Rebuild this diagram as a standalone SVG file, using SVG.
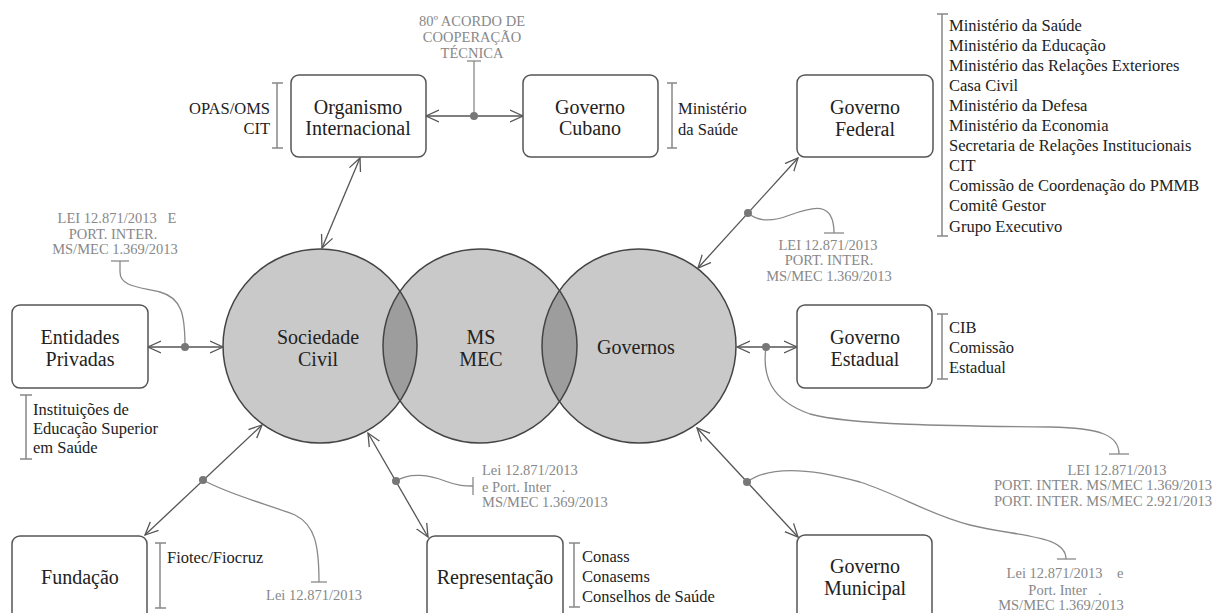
<svg xmlns="http://www.w3.org/2000/svg" width="1213" height="613" viewBox="0 0 1213 613" font-family="'Liberation Serif', 'Times New Roman', 'DejaVu Serif', serif">
<style>
text{font-family:"Liberation Serif","Times New Roman","DejaVu Serif",serif}
.box{fill:#fff;stroke:#555;stroke-width:1.5}
.bt{font-size:20px;fill:#222;text-anchor:middle}
.st{font-size:16.5px;fill:#222}
.law{font-size:14.5px;fill:#888;white-space:pre}
.br{stroke:#888;stroke-width:1.5;fill:none}
.cn{stroke:#555;stroke-width:1.3;fill:none}
.cv{stroke:#888;stroke-width:1.3;fill:none}
.dot{fill:#777}
.circ{fill:#c9c9c9}
.lens{fill:#9d9d9d}
.co{fill:none;stroke:#444;stroke-width:1.5}
</style>
<defs>
<marker id="ar" viewBox="0 0 14 14" refX="13" refY="7" markerWidth="14" markerHeight="14" markerUnits="userSpaceOnUse" orient="auto-start-reverse">
<path d="M0,1 L13,7 L0,13" fill="none" stroke="#555" stroke-width="1.3"/>
</marker>
</defs>
<rect width="1213" height="613" fill="#fff"/>

<g id="venn">
<circle class="circ" cx="320" cy="346" r="97"/>
<circle class="circ" cx="480" cy="346" r="97"/>
<circle class="circ" cx="639" cy="346" r="97"/>
<path class="lens" d="M400,291.15 A97,97 0 0,1 400,400.85 A97,97 0 0,1 400,291.15Z"/>
<path class="lens" d="M559.5,290.4 A97,97 0 0,1 559.5,401.6 A97,97 0 0,1 559.5,290.4Z"/>
<circle class="co" cx="320" cy="346" r="97"/>
<circle class="co" cx="480" cy="346" r="97"/>
<circle class="co" cx="639" cy="346" r="97"/>
</g>
<g id="sociedade-civil"><text class="bt" x="318" y="344">Sociedade</text><text class="bt" x="318" y="366">Civil</text></g>
<g id="ms-mec"><text class="bt" x="481" y="344">MS</text><text class="bt" x="481" y="366">MEC</text></g>
<g id="governos"><text class="bt" x="636" y="354">Governos</text></g>

<g id="connectors">
<line class="cn" x1="426" y1="116" x2="523" y2="116" marker-start="url(#ar)" marker-end="url(#ar)"/>
<line class="cv" x1="474" y1="61" x2="474" y2="116"/>
<line class="cv" x1="467" y1="61" x2="481" y2="61"/>
<circle class="dot" cx="474" cy="116" r="4"/>

<line class="cn" x1="360" y1="158" x2="322" y2="248" marker-start="url(#ar)" marker-end="url(#ar)"/>

<line class="cn" x1="798" y1="158" x2="698" y2="268" marker-start="url(#ar)" marker-end="url(#ar)"/>
<path class="cv" d="M748,213 C758,222 772,222 790,215 C812,207 834,200 834,233"/>
<line class="cv" x1="824" y1="233" x2="844" y2="233"/>
<circle class="dot" cx="748" cy="213" r="4"/>

<line class="cn" x1="148" y1="347" x2="223" y2="347" marker-start="url(#ar)" marker-end="url(#ar)"/>
<path class="cv" d="M120,261 V272 C120,287 140,287 160,292 C182,298 185,315 185,347"/>
<line class="cv" x1="111" y1="261" x2="129" y2="261"/>
<circle class="dot" cx="185" cy="347" r="4"/>

<line class="cn" x1="737" y1="347" x2="797" y2="347" marker-start="url(#ar)" marker-end="url(#ar)"/>
<path class="cv" d="M766,347 C762,375 770,400 810,414 C850,425 950,426 1050,427 C1100,428 1119,435 1119,454"/>
<line class="cv" x1="1109" y1="454" x2="1129" y2="454"/>
<circle class="dot" cx="766" cy="347" r="4"/>

<line class="cn" x1="262" y1="425" x2="145" y2="535" marker-start="url(#ar)" marker-end="url(#ar)"/>
<path class="cv" d="M203,480 C230,495 270,505 295,515 C315,525 319,545 319,582"/>
<line class="cv" x1="311" y1="582" x2="327" y2="582"/>
<circle class="dot" cx="203" cy="480" r="4"/>

<line class="cn" x1="368" y1="433" x2="428" y2="537" marker-start="url(#ar)" marker-end="url(#ar)"/>
<path class="cv" d="M396,481 C410,472 430,475 445,481 C458,486 465,486 473,486"/>
<line class="cv" x1="473" y1="477" x2="473" y2="495"/>
<circle class="dot" cx="396" cy="481" r="4"/>

<line class="cn" x1="697" y1="428" x2="798" y2="537" marker-start="url(#ar)" marker-end="url(#ar)"/>
<path class="cv" d="M747,482 C770,465 810,468 860,482 C900,495 930,515 970,525 C1020,537 1066,535 1066,559"/>
<line class="cv" x1="1057" y1="559" x2="1076" y2="559"/>
<circle class="dot" cx="747" cy="482" r="4"/>
</g>

<g id="organismo-internacional">
<rect class="box" x="291" y="75" width="135" height="82" rx="8"/>
<text class="bt" x="358" y="114">Organismo</text><text class="bt" x="358" y="135">Internacional</text>
<path class="br" d="M272,83 H283 M277,83 V148 M272,148 H283"/>
<text class="st" x="270" y="114" text-anchor="end">OPAS/OMS</text>
<text class="st" x="270" y="134" text-anchor="end">CIT</text>
</g>

<g id="acordo">
<text class="law" x="472" y="26" text-anchor="middle">80º ACORDO DE</text>
<text class="law" x="472" y="42" text-anchor="middle">COOPERAÇÃO</text>
<text class="law" x="472" y="58" text-anchor="middle">TÉCNICA</text>
</g>

<g id="governo-cubano">
<rect class="box" x="523" y="75" width="135" height="82" rx="8"/>
<text class="bt" x="590" y="114">Governo</text><text class="bt" x="590" y="135">Cubano</text>
<path class="br" d="M667,83 H677 M672,83 V148 M667,148 H677"/>
<text class="st" x="678" y="114">Ministério</text>
<text class="st" x="678" y="135">da Saúde</text>
</g>

<g id="governo-federal">
<rect class="box" x="797" y="75" width="136" height="82" rx="8"/>
<text class="bt" x="865" y="114">Governo</text><text class="bt" x="865" y="136">Federal</text>
<path class="br" d="M937,14 H948 M942,14 V236 M937,236 H948"/>
<text class="st" x="949" y="31">Ministério da Saúde</text>
<text class="st" x="949" y="51">Ministério da Educação</text>
<text class="st" x="949" y="71">Ministério das Relações Exteriores</text>
<text class="st" x="949" y="91">Casa Civil</text>
<text class="st" x="949" y="111">Ministério da Defesa</text>
<text class="st" x="949" y="131">Ministério da Economia</text>
<text class="st" x="949" y="151">Secretaria de Relações Institucionais</text>
<text class="st" x="949" y="171">CIT</text>
<text class="st" x="949" y="191">Comissão de Coordenação do PMMB</text>
<text class="st" x="949" y="211">Comitê Gestor</text>
<text class="st" x="949" y="232">Grupo Executivo</text>
<text class="law" x="828" y="250" text-anchor="middle">LEI 12.871/2013</text>
<text class="law" x="829" y="265" text-anchor="middle">PORT. INTER.</text>
<text class="law" x="829" y="281" text-anchor="middle">MS/MEC 1.369/2013</text>
</g>

<g id="entidades-privadas">
<rect class="box" x="12" y="305" width="136" height="83" rx="8"/>
<text class="bt" x="80" y="344">Entidades</text><text class="bt" x="80" y="366">Privadas</text>
<path class="br" d="M20,395 H32 M26,395 V459 M20,459 H32"/>
<text class="st" x="33" y="415">Instituições de</text>
<text class="st" x="33" y="434">Educação Superior</text>
<text class="st" x="33" y="453">em Saúde</text>
<text class="law" x="117" y="223" text-anchor="middle">LEI 12.871/2013   E</text>
<text class="law" x="113" y="239" text-anchor="middle">PORT. INTER.</text>
<text class="law" x="115" y="254" text-anchor="middle">MS/MEC 1.369/2013</text>
</g>

<g id="governo-estadual">
<rect class="box" x="797" y="305" width="135" height="83" rx="8"/>
<text class="bt" x="865" y="344">Governo</text><text class="bt" x="865" y="366">Estadual</text>
<path class="br" d="M937,314 H948 M942,314 V379 M937,379 H948"/>
<text class="st" x="949" y="333">CIB</text>
<text class="st" x="949" y="353">Comissão</text>
<text class="st" x="949" y="373">Estadual</text>
<text class="law" x="1117" y="475" text-anchor="middle">LEI 12.871/2013</text>
<text class="law" x="1103" y="490" text-anchor="middle">PORT. INTER. MS/MEC 1.369/2013</text>
<text class="law" x="1103" y="506" text-anchor="middle">PORT. INTER. MS/MEC 2.921/2013</text>
</g>

<g id="fundacao">
<rect class="box" x="12" y="536" width="135" height="90" rx="8"/>
<text class="bt" x="80" y="584">Fundação</text>
<path class="br" d="M155,543 H166 M160,543 V608 M155,608 H166"/>
<text class="st" x="167" y="563">Fiotec/Fiocruz</text>
<text class="law" x="314" y="600" text-anchor="middle">Lei 12.871/2013</text>
</g>

<g id="representacao">
<rect class="box" x="427" y="536" width="136" height="90" rx="8"/>
<text class="bt" x="495" y="584">Representação</text>
<path class="br" d="M569,543 H580 M574,543 V607 M569,607 H580"/>
<text class="st" x="582" y="562">Conass</text>
<text class="st" x="582" y="582">Conasems</text>
<text class="st" x="582" y="602">Conselhos de Saúde</text>
<text class="law" x="482" y="475">Lei 12.871/2013</text>
<text class="law" x="482" y="492">e Port. Inter   .</text>
<text class="law" x="482" y="507">MS/MEC 1.369/2013</text>
</g>

<g id="governo-municipal">
<rect class="box" x="797" y="535" width="135" height="90" rx="8"/>
<text class="bt" x="865" y="573">Governo</text><text class="bt" x="865" y="595">Municipal</text>
<text class="law" x="1065" y="578" text-anchor="middle">Lei 12.871/2013    e</text>
<text class="law" x="1065" y="595" text-anchor="middle">Port. Inter   .</text>
<text class="law" x="1061" y="610" text-anchor="middle">MS/MEC 1.369/2013</text>
</g>
</svg>
